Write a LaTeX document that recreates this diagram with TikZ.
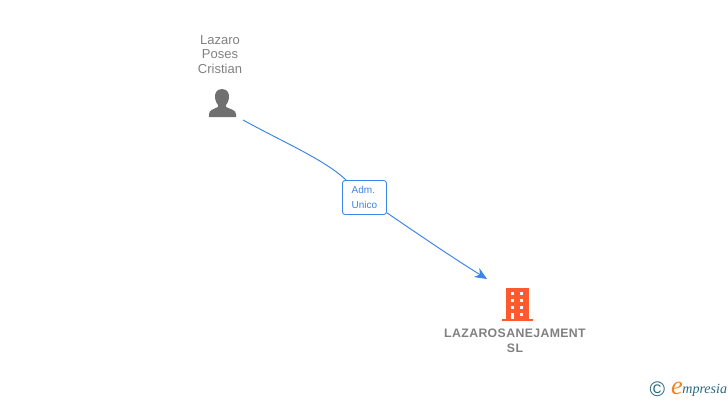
\documentclass[tikz,border=0pt]{standalone}
\usepackage{fontspec}
\setmainfont{Liberation Sans}
\newfontfamily\logofont{Liberation Serif}
\usetikzlibrary{arrows.meta}
\definecolor{mygray1}{RGB}{112, 112, 112}
\definecolor{mygray2}{RGB}{128, 128, 128}
\definecolor{myblue}{RGB}{60, 132, 232}
\definecolor{myorange}{RGB}{255, 90, 46}
\definecolor{mylogo}{RGB}{245, 130, 30}
\definecolor{myteal}{RGB}{40, 105, 130}
\tikzset{>={Stealth[length=7pt,width=6pt]}}
\tikzset{personlabel/.style={text = mygray2, align = center, font = \fontsize{7.4}{8.2}\selectfont}}
\tikzset{companylabel/.style={text = mygray2, align = center, font = \fontsize{7}{8.6}\selectfont\bfseries\addfontfeature{LetterSpace=3}}}
\tikzset{rolebox/.style={draw = myblue, fill = white, rounded corners = 1.5pt, line width = 0.5pt, text = myblue, align = left, minimum width = 0.88cm, minimum height = 0.68cm, inner sep = 0pt, font = \fontsize{5.7}{8.4}\selectfont}}
\tikzset{link/.style={myblue, line width = 0.55pt}}
\begin{document}
\begin{tikzpicture}[x = 0.02cm, y = -0.02cm]
\useasboundingbox (0,0) rectangle (728,400);

\node[personlabel] (name) at (220,54.5) {Lazaro\\Poses\\Cristian};

% person icon
\fill[mygray1] (222,89) .. controls (216.5,89) and (214.5,93.5) .. (215,98) .. controls (215.3,101) and (216.5,103) .. (218,105) -- (218,107) .. controls (214,109) and (209,110) .. (209,114) -- (209,117) -- (236,117) -- (236,114) .. controls (236,110) and (230,109) .. (226,107) -- (226,105) .. controls (227.5,103) and (228.8,101) .. (229,98) .. controls (229.5,93.5) and (227.5,89) .. (222,89) -- cycle;

\coordinate (start) at (243,120);
\coordinate (end) at (487,279);
\node[rolebox] (role) at (364.5,197.5) {Adm.\\Unico};

\draw[link] (start) .. controls (285,143) and (325,160) .. (role);
\draw[link, ->] (role) .. controls (415,232) and (450,256) .. (end);

% building icon
\fill[myorange] (505.5,288) rectangle (528.5,319);
\fill[myorange] (501.5,319) rectangle (533,321);
\foreach \y in {291.5,298.5,305.5}
{
\fill[white] (510.5,\y) rectangle (514,\y+3.5);
\fill[white] (519.5,\y) rectangle (523,\y+3.5);
}
\fill[white] (510.5,312.5) rectangle (514,319);
\fill[white] (519.5,312.5) rectangle (523,316);

\node[companylabel] (company) at (515,341) {LAZAROSANEJAMENT\\SL};

% logo
\node[text = myteal, font = \fontsize{12}{12}\selectfont, inner sep = 0pt] (copy) at (657.5,389) {©};
\node[text = mylogo, font = \logofont\itshape\fontsize{15}{15}\selectfont, inner sep = 0pt] (logoe) at (677,388.5) {e};
\node[text = myteal, font = \logofont\itshape\fontsize{8}{8}\selectfont, inner sep = 0pt, anchor = west] (logotext) at (682,390) {mpresia};

\end{tikzpicture}
\end{document}
